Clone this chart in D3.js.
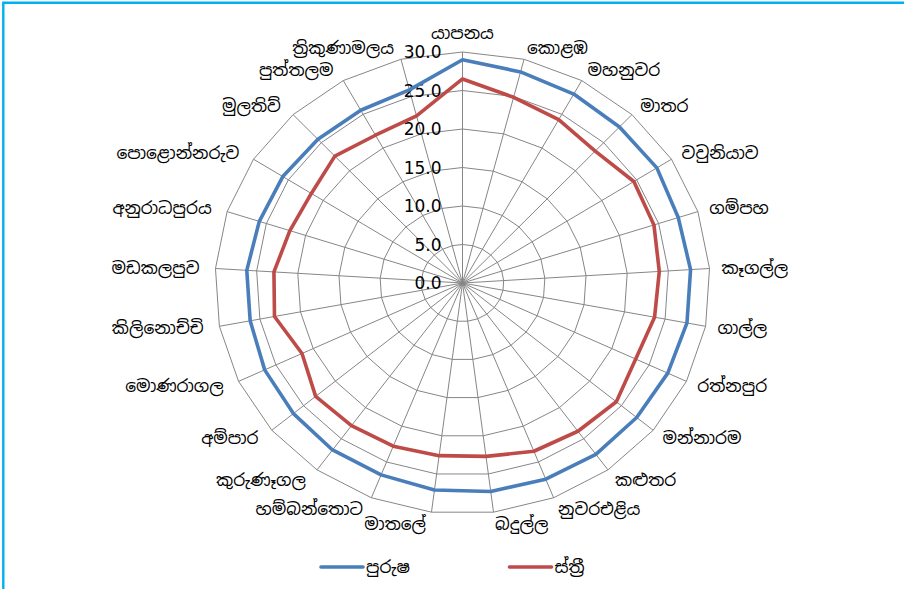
<!DOCTYPE html>
<html lang="si">
<head>
<meta charset="UTF-8">
<title>Radar</title>
<script src="https://d3js.org/d3.v7.min.js"></script>
<style>
  body { margin: 0; background: #fff; }
  .cat { font: 17px "Noto Sans Sinhala", "Iskoola Pota", "Noto Sans", sans-serif; fill: #000; }
  .tick { font: 17px "DejaVu Sans", sans-serif; fill: #000; }
  .grid { fill: none; stroke: #868686; stroke-width: 1; }
</style>
</head>
<body>
<script>
// districts, clockwise from the top
var districts = ["යාපනය", "කොළඹ", "මහනුවර", "මාතර", "වවුනියාව", "ගම්පහ", "කෑගල්ල", "ගාල්ල",
  "රත්නපුර", "මන්නාරම", "කළුතර", "නුවරඑළිය", "බදුල්ල", "මාතලේ", "හම්බන්තොට", "කුරුණෑගල",
  "අම්පාර", "මොණරාගල", "කිලිනොච්චි", "මඩකලපුව", "අනුරාධපුරය", "පොළොන්නරුව", "මුලතිව්",
  "පුත්තලම", "ත්‍රිකුණාමලය"];
var male = [29.0, 28.3, 28.0, 27.8, 27.9, 27.5, 27.7, 27.7, 27.5, 27.4, 27.5, 27.4, 27.3,
  27.1, 26.8, 26.8, 26.6, 26.5, 26.2, 26.2, 25.9, 25.8, 25.6, 25.6, 25.9];
var female = [26.5, 24.9, 24.2, 23.5, 24.6, 24.4, 23.9, 23.7, 23.2, 24.2, 23.8, 23.5, 22.7,
  22.6, 22.8, 22.9, 23.1, 21.5, 23.2, 22.9, 22.0, 21.7, 22.6, 21.9, 22.4];
var ticks = [0, 5, 10, 15, 20, 25, 30];
var seriesNames = ["පුරුෂ", "ස්ත්‍රී"];
var colors = ["#4a7ebb", "#be4b48"];

var W = 904, H = 589;
var cx = 462.5, cy = 283;

var svg = d3.select("body").append("svg")
  .attr("width", W).attr("height", H);

// frame (only top and left edge visible)
svg.append("path")
  .attr("d", "M3.3," + H + "V2.8H" + W)
  .attr("fill", "none").attr("stroke", "#00b0f0").attr("stroke-width", 2.4);

// plot is slightly wider than tall
var rx = d3.scaleLinear().domain([0, 30]).range([0, 247.5]);
var ry = d3.scaleLinear().domain([0, 30]).range([0, 231]);
var n = districts.length;
var angle = d3.scaleLinear().domain([0, n]).range([0, 2 * Math.PI]);

function px(i, v) { return cx + rx(v) * Math.sin(angle(i)); }
function py(i, v) { return cy - ry(v) * Math.cos(angle(i)); }

var g = svg.append("g");

// rings
ticks.forEach(function(t) {
  if (t === 0) return;
  g.append("path").attr("class", "grid")
    .attr("d", d3.line().curve(d3.curveLinearClosed)(districts.map(function(d, i) {
      return [px(i, t), py(i, t)];
    })));
});

// spokes
g.selectAll(".spoke").data(districts).enter().append("line")
  .attr("class", "grid")
  .attr("x1", cx).attr("y1", cy)
  .attr("x2", function(d, i) { return px(i, 30); })
  .attr("y2", function(d, i) { return py(i, 30); });

// value labels on the top spoke
g.selectAll(".tick").data(ticks).enter().append("text")
  .attr("class", "tick")
  .attr("x", cx - 21)
  .attr("y", function(t) { return py(0, t); })
  .attr("dy", "0.36em")
  .attr("text-anchor", "end")
  .text(function(t) { return t.toFixed(1); });

// series
[male, female].forEach(function(vals, k) {
  g.append("path")
    .attr("fill", "none")
    .attr("stroke", colors[k])
    .attr("stroke-width", 3.6)
    .attr("stroke-linejoin", "round")
    .attr("d", d3.line().curve(d3.curveLinearClosed)(vals.map(function(v, i) {
      return [px(i, v), py(i, v)];
    })));
});

// category labels
g.selectAll(".cat").data(districts).enter().append("text")
  .attr("class", "cat")
  .attr("x", function(d, i) {
    var s = Math.sin(angle(i));
    return px(i, 30) + 12 * s + (s < -0.05 ? -4 : 0);
  })
  .attr("y", function(d, i) {
    var c = Math.cos(angle(i));
    return py(i, 30) - 12 * c - (Math.abs(Math.sin(angle(i))) < 0.05 ? 7 : 0);
  })
  .attr("dy", "0.35em")
  .attr("text-anchor", function(d, i) {
    var s = Math.sin(angle(i));
    return s > 0.05 ? "start" : (s < -0.05 ? "end" : "middle");
  })
  .text(function(d) { return d; });

// legend
var legend = svg.append("g").attr("transform", "translate(0,567)");
var legendX = [321, 509.5];
seriesNames.forEach(function(name, k) {
  legend.append("line")
    .attr("x1", legendX[k]).attr("x2", legendX[k] + 42)
    .attr("y1", 0).attr("y2", 0)
    .attr("stroke", colors[k]).attr("stroke-width", 3.6)
    .attr("stroke-linecap", "round");
  legend.append("text")
    .attr("class", "cat")
    .attr("x", legendX[k] + 45).attr("y", 0)
    .attr("dy", "0.35em")
    .text(name);
});
</script>
</body>
</html>
